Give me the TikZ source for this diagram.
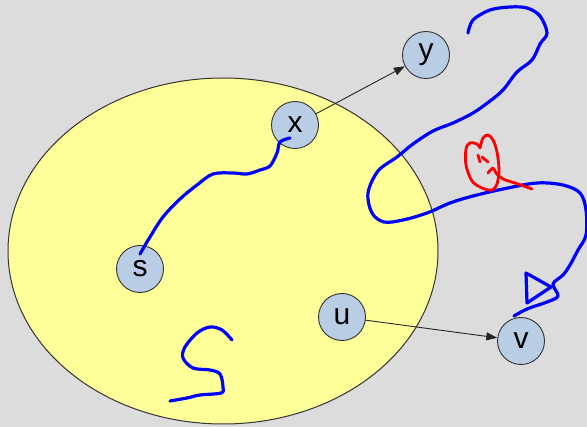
\documentclass[tikz,border=0pt]{standalone}
\usepackage{fontspec}
\setmainfont{Liberation Sans}
\usetikzlibrary{arrows.meta}
\definecolor{bgray}{HTML}{DCDCDC}
\definecolor{setfill}{HTML}{FFFF99}
\definecolor{vfill}{HTML}{B9CDE5}
\definecolor{pen}{HTML}{0000FF}
\definecolor{redpen}{HTML}{FF0000}
\tikzset{
  vertex/.style={circle, draw=black!80, line width=0.9pt, fill=vfill,
    minimum size=47pt, inner sep=0pt, font=\fontsize{30}{30}\selectfont},
  edge/.style={draw=black!85, line width=0.9pt, -{Triangle[length=11pt,width=8pt]}},
  ink/.style={pen, line width=3.2pt, line cap=round, line join=round},
  redink/.style={redpen, line width=2.8pt, line cap=round, line join=round},
}
\begin{document}
\begin{tikzpicture}[x=1pt, y=-1pt]
  \useasboundingbox (0,0) rectangle (587,427);
  \fill[bgray] (0,0) rectangle (587,427);

  % the explored set
  \draw[fill=setfill, draw=black!80, line width=1pt] (223,251) ellipse [x radius=215, y radius=173];

  % vertices
  \node[vertex] (s) at (140,269) {s};
  \node[vertex] (x) at (295,125) {x};
  \node[vertex] (y) at (426,55) {y};
  \node[vertex] (u) at (342,317) {u};
  \node[vertex] (v) at (521,341) {v};

  % edges leaving the set
  \draw[edge] (x) -- (y);
  \draw[edge] (u) -- (v);

  % path from s to x inside the set
  \draw[ink] plot[smooth, tension=0.55] coordinates {
    (140,254) (150,237) (163,217) (180,199) (197,185) (213,174)
    (233,173) (247,174) (260,170) (270,166) (277,153) (280,142) (290,138)};

  % long path leaving the set and coming back to v
  \draw[ink] plot[smooth, tension=0.55] coordinates {
    (468,33) (473,20) (490,10) (510,7) (527,8) (540,16) (547,33)
    (540,44) (532,60) (517,72) (503,90) (490,101) (473,113) (453,123)
    (433,131) (413,144) (397,157) (378,171) (368,193) (372,213)
    (384,222) (403,220) (427,213) (450,203) (473,196) (503,189)
    (537,183) (563,185) (580,193) (586,210) (586,235) (578,250)
    (570,265) (563,275) (553,284) (558,296) (547,302) (527,309) (514,316)};

  % small triangle scribble near v
  \draw[ink] (526,273) -- (527,303) -- (551,287) -- cycle;

  % squiggle at the bottom of the set
  \draw[ink] plot[smooth, tension=0.55] coordinates {
    (232,340) (222,330) (210,327) (197,333) (185,347) (183,358)
    (193,368) (210,370) (220,374) (223,387) (221,393) (200,395)
    (187,398) (170,401)};

  % red scribble
  \draw[redink] plot[smooth, tension=0.55] coordinates {
    (480,148) (477,144) (470,143) (466,149) (466,165) (472,181)
    (482,188) (492,190) (497,184) (499,170) (497,152) (493,140)
    (488,135) (483,138) (480,148)};
  \draw[redink] (478,155) -- (480,162);
  \draw[redink] (482,157) -- (488,162);
  \draw[redink] plot[smooth, tension=0.5] coordinates {
    (488,173) (493,168) (496,173) (503,179) (518,184) (532,189)};
\end{tikzpicture}
\end{document}
